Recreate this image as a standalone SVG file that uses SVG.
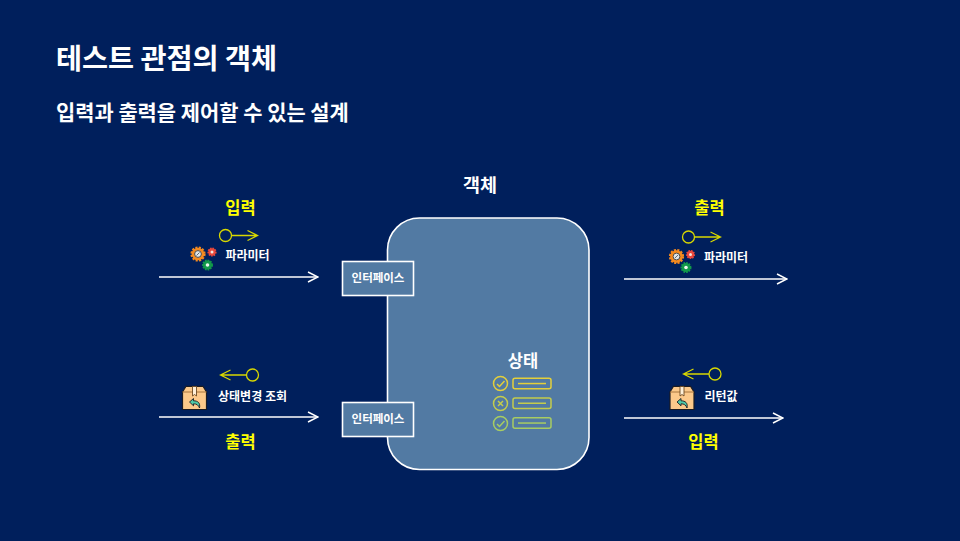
<svg xmlns="http://www.w3.org/2000/svg" width="960" height="541" viewBox="0 0 960 541">
<style>
text{font-family:"Noto Sans CJK KR","Noto Sans",sans-serif;fill:#fff;font-weight:700}
.y{fill:#ffff00;font-size:16.500px;text-anchor:middle}
.s{font-size:12px;text-anchor:middle}
.i{font-size:11.500px;text-anchor:middle}
.ln{fill:none;stroke:#fff;stroke-width:1.600}
.yl{fill:none;stroke:#d8d800;stroke-width:1.300}
.ifb{fill:#527aa3;stroke:#fff;stroke-width:1.600}
</style>
<defs>
<marker id="open" viewBox="0 0 12 12" refX="11" refY="6" markerWidth="12" markerHeight="12" markerUnits="userSpaceOnUse" orient="auto"><path d="M1 1L11 6L1 11" fill="none" stroke="#fff" stroke-width="1.500"/></marker>
<g id="gears">
<circle cx="7.500" cy="8" r="6.300" fill="#f58a1f" stroke="#f58a1f" stroke-width="2.600" stroke-dasharray="2 1.300"/><circle cx="7.500" cy="8" r="3.400" fill="#dfe6ea" stroke="#4a4a4a" stroke-width="1"/><path d="M6 9.500L9 6.500" stroke="#4a4a4a" stroke-width=".8"/>
<circle cx="21.500" cy="6" r="3.700" fill="#e8483c" stroke="#e8483c" stroke-width="1.800" stroke-dasharray="1.500 1"/><circle cx="21.500" cy="6" r="1.500" fill="#f3e6e0"/>
<circle cx="17" cy="19" r="4.500" fill="#12994a" stroke="#12994a" stroke-width="2" stroke-dasharray="1.600 1"/><circle cx="17" cy="19" r="1.800" fill="#eef5ef"/>
</g>
<g id="box">
<path d="M.5 6.500L4 .8H21L24.500 6.500V24H.5Z" fill="#fcc98a" stroke="#1c1c22" stroke-width="1.200"/>
<path d="M.5 6.500H24.500" stroke="#a8763e" stroke-width="1"/>
<path d="M10.500 1H14.500V10.500L12.500 9L10.500 10.500Z" fill="#fff0d8" stroke="#6d4a22" stroke-width=".9"/>
<path d="M7.500 16.500L11.500 13V15.300C16 15.300 18.500 17.500 17.500 22.500C16.500 19.500 14.500 18.300 11.500 18.300V20.300Z" fill="#4dc9a8" stroke="#1c1c22" stroke-width=".9"/>
</g>
<g id="sline"><rect x="0" y="0" width="38" height="10.500" rx="2" fill="none" stroke-width="1.500"/><path d="M5 5.250H33" fill="none" stroke-width="1.500"/></g>
</defs>
<rect width="960" height="541" fill="#001f5c"/>
<text x="56" y="69" font-size="28.300">테스트 관점의 객체</text>
<text x="56" y="120" font-size="20.900">입력과 출력을 제어할 수 있는 설계</text>

<g id="object">
<rect x="387.500" y="218" width="201.500" height="251.500" rx="32" fill="#527aa3" stroke="#fff" stroke-width="1.600"/>
<text x="480" y="192" font-size="18.500" text-anchor="middle">객체</text>
</g>
<g id="state">
<text x="523" y="366.500" font-size="16.500" text-anchor="middle">상태</text>
<g fill="none" stroke-width="1.500">
<g stroke="#e3cf3b"><circle cx="500.500" cy="383.500" r="7"/><path d="M497 384L499.500 386.500L504.500 381"/><use href="#sline" x="513" y="378.300"/></g>
<g stroke="#c4cc4c"><circle cx="500.500" cy="403.500" r="7"/><path d="M498 401L503 406M503 401L498 406"/><use href="#sline" x="513" y="398"/></g>
<g stroke="#a8cc62"><circle cx="500.500" cy="423.500" r="7"/><path d="M497 424L499.500 426.500L504.500 421"/><use href="#sline" x="513" y="417.800"/></g>
</g>
</g>
<g id="interface-top"><rect class="ifb" x="342.500" y="261.500" width="71" height="34"/><text class="i" x="378" y="282">인터페이스</text></g>
<g id="interface-bottom"><rect class="ifb" x="342.500" y="402.500" width="71" height="34"/><text class="i" x="378" y="423">인터페이스</text></g>

<g id="connectors">
<path class="ln" d="M159 277H318" marker-end="url(#open)"/>
<path class="ln" d="M159 417H318" marker-end="url(#open)"/>
<path class="ln" d="M624 279H787" marker-end="url(#open)"/>
<path class="ln" d="M624 418H783" marker-end="url(#open)"/>
<g class="yl"><circle cx="225.500" cy="235.500" r="6"/><path d="M231.500 235.500H257.500M247.500 230.500L257.500 235.500L247.500 240.500"/></g>
<g class="yl"><circle cx="252.500" cy="375" r="6"/><path d="M246.500 375H220.500M230.500 370L220.500 375L230.500 380"/></g>
<g class="yl"><circle cx="688.500" cy="237" r="6"/><path d="M694.500 237H720.500M710.500 232L720.500 237L710.500 242"/></g>
<g class="yl"><circle cx="715" cy="374" r="6"/><path d="M709 374H683.500M693.500 369L683.500 374L693.500 379"/></g>
</g>

<g id="input-top"><text class="y" x="240.500" y="213.500">입력</text><use href="#gears" x="190.500" y="246"/><text class="s" x="247.500" y="260">파라미터</text></g>
<g id="output-bottom"><use href="#box" x="182" y="385.500"/><text class="s" x="252.500" y="401">상태변경 조회</text><text class="y" x="240.500" y="447.500">출력</text></g>
<g id="output-top"><text class="y" x="709.500" y="213.500">출력</text><use href="#gears" x="669" y="248.500"/><text class="s" x="726" y="262">파라미터</text></g>
<g id="input-bottom"><use href="#box" x="669.500" y="385.500"/><text class="s" x="721" y="401">리턴값</text><text class="y" x="703.500" y="447.500">입력</text></g>
</svg>
